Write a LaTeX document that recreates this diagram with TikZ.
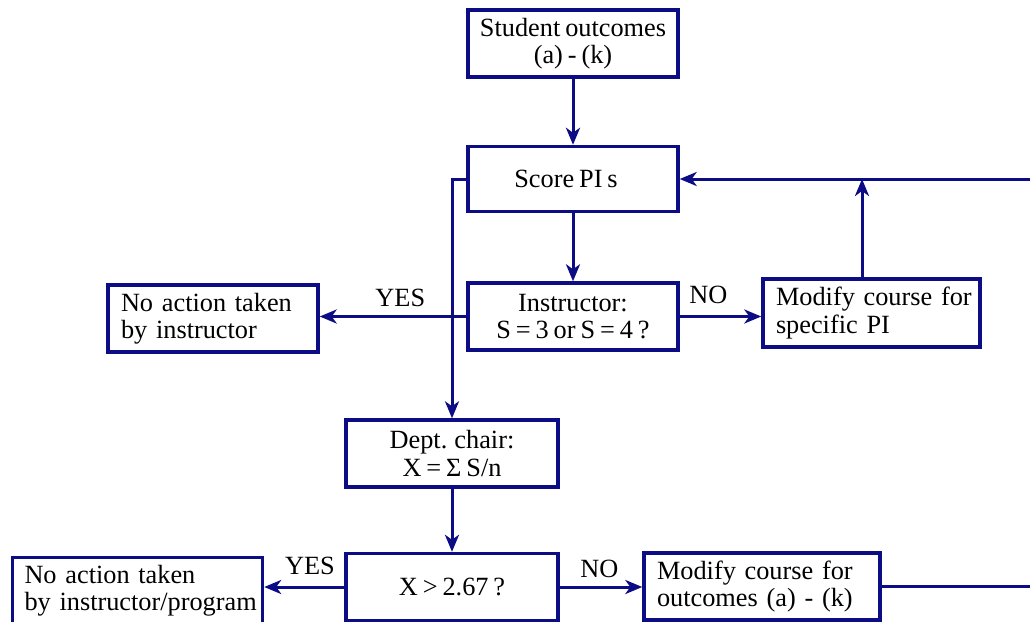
\documentclass[tikz,border=0pt]{standalone}
\usepackage{fontspec}
\setmainfont{Liberation Serif}[WordSpace=0.75]
\usetikzlibrary{arrows.meta}
\definecolor{navy}{RGB}{12,12,132}
\begin{document}
\begin{tikzpicture}[x=1pt,y=-1pt,
  txt/.style={font=\fontsize{26.3}{27.3}\selectfont},
  box/.style={txt,draw=navy,line width=3.4pt,fill=white,minimum height=67pt,inner sep=0pt,align=center,
    execute at begin node={\hyphenpenalty=10000\exhyphenpenalty=10000}},
  lbox/.style={box,align=left,text width=#1,inner xsep=13pt},
  arr/.style={draw=navy,line width=3pt,-{Stealth[length=17pt,width=14pt,inset=5pt]}},
  ln/.style={draw=navy,line width=3pt},
  lab/.style={txt,inner sep=0pt}]
\useasboundingbox (0,0) rectangle (1030,621);

\node[box,minimum width=210pt] (so) at (573,43.5) {Student outcomes\\(a) - (k)};
\node[box,minimum width=210pt,minimum height=65pt] (score) at (573,179) {Score PI s\hspace*{14pt}};
\node[box,minimum width=210pt] (instr) at (573,316.5) {Instructor:\\S = 3 or S = 4 ?};
\node[lbox=184pt] (noact1) at (213,318.5) {\mbox{No action taken}\\\mbox{by instructor}};
\node[lbox=191pt,minimum height=68pt] (modpi) at (871.5,313) {\mbox{Modify course for}\\\mbox{specific PI}};
\node[box,minimum width=212pt] (dept) at (452,453.5) {Dept. chair:\\X = Σ S/n};
\node[box,minimum width=212pt] (xgt) at (452,587) {X > 2.67 ?};
\node[lbox=238pt,inner xsep=6pt] (noact2) at (137.5,591) {\hspace*{6pt}\mbox{No action taken}\\\hspace*{6pt}\mbox{by instructor/program}};
\node[lbox=210pt] (modout) at (762,586.5) {\mbox{Modify course for}\\\mbox{outcomes (a) - (k)}};

\coordinate (redge) at (1031,0);
\coordinate (j) at (862,179);

\draw[arr] (so) -- (score);
\draw[arr] (score) -- (instr);
\draw[arr] (instr.west) -- node[lab,above=8pt,pos=0.45] {YES} (instr.west -| noact1.east);
\draw[arr] (instr.east) -- node[lab,above=11pt,pos=0.35] {NO} (instr.east -| modpi.west);
\draw[arr] (score.west) -| (dept.north);
\draw[arr] (dept) -- (xgt);
\draw[arr] (xgt.west) -- node[lab,above=11pt,pos=0.43] {YES} (xgt.west -| noact2.east);
\draw[arr] (xgt.east) -- node[lab,above=8pt,pos=0.48] {NO} (xgt.east -| modout.west);
\draw[ln] (modout.east) -- (modout.east -| redge);
\draw[arr] (redge |- score.east) -- (score.east);
\draw[arr] (modpi.north -| j) -- (j);
\end{tikzpicture}
\end{document}
